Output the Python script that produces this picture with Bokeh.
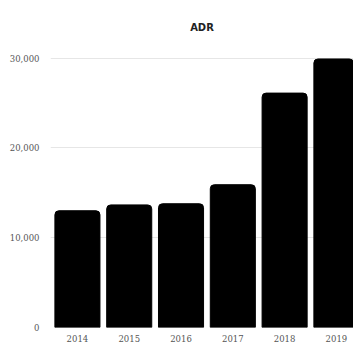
from bokeh.plotting import figure
from bokeh.models import Range1d, FixedTicker, NumeralTickFormatter, ColumnDataSource
from bokeh.embed import file_html
from bokeh.resources import INLINE

years = ["2014", "2015", "2016", "2017", "2018", "2019"]
adr = [13000, 13650, 13780, 15900, 26100, 29900]
y_ticks = [0, 10000, 20000, 30000]

xs = list(range(len(years)))
src = ColumnDataSource(dict(x=xs, top=adr))

p = figure(width=353, height=344, output_backend="svg", toolbar_location=None,
           x_range=Range1d(-0.52, 5.33), y_range=Range1d(0, 31400),
           min_border_left=50, min_border_right=0, min_border_top=45, min_border_bottom=12,
           title="ADR")
p.title.align = "center"
p.title.text_font = "DejaVu Sans"
p.title.text_font_size = "10px"
p.title.text_font_style = "bold"
p.title.text_color = "#222222"
p.title.offset = 0
p.title.standoff = 26

p.vbar(x="x", top="top", width=0.87, bottom=0, source=src, color="black",
       border_radius=[4, 4, 0, 0])

p.outline_line_color = None
p.xgrid.grid_line_color = None
p.ygrid.grid_line_color = "#e6e6e6"
p.ygrid.ticker = FixedTicker(ticks=y_ticks)

p.yaxis.ticker = FixedTicker(ticks=y_ticks)
p.yaxis.formatter = NumeralTickFormatter(format="0,0")
p.xaxis.ticker = FixedTicker(ticks=xs)
p.xaxis.major_label_overrides = {i: y for i, y in enumerate(years)}
for ax in (p.xaxis, p.yaxis):
    ax.axis_line_color = None
    ax.major_tick_line_color = None
    ax.minor_tick_line_color = None
    ax.major_label_text_font = "DejaVu Serif"
    ax.major_label_text_font_size = "8.5px"
    ax.major_label_text_color = "#555555"
p.yaxis.major_label_standoff = 5
p.xaxis.major_label_standoff = 1

open("out.html", "w").write(file_html(p, INLINE))
